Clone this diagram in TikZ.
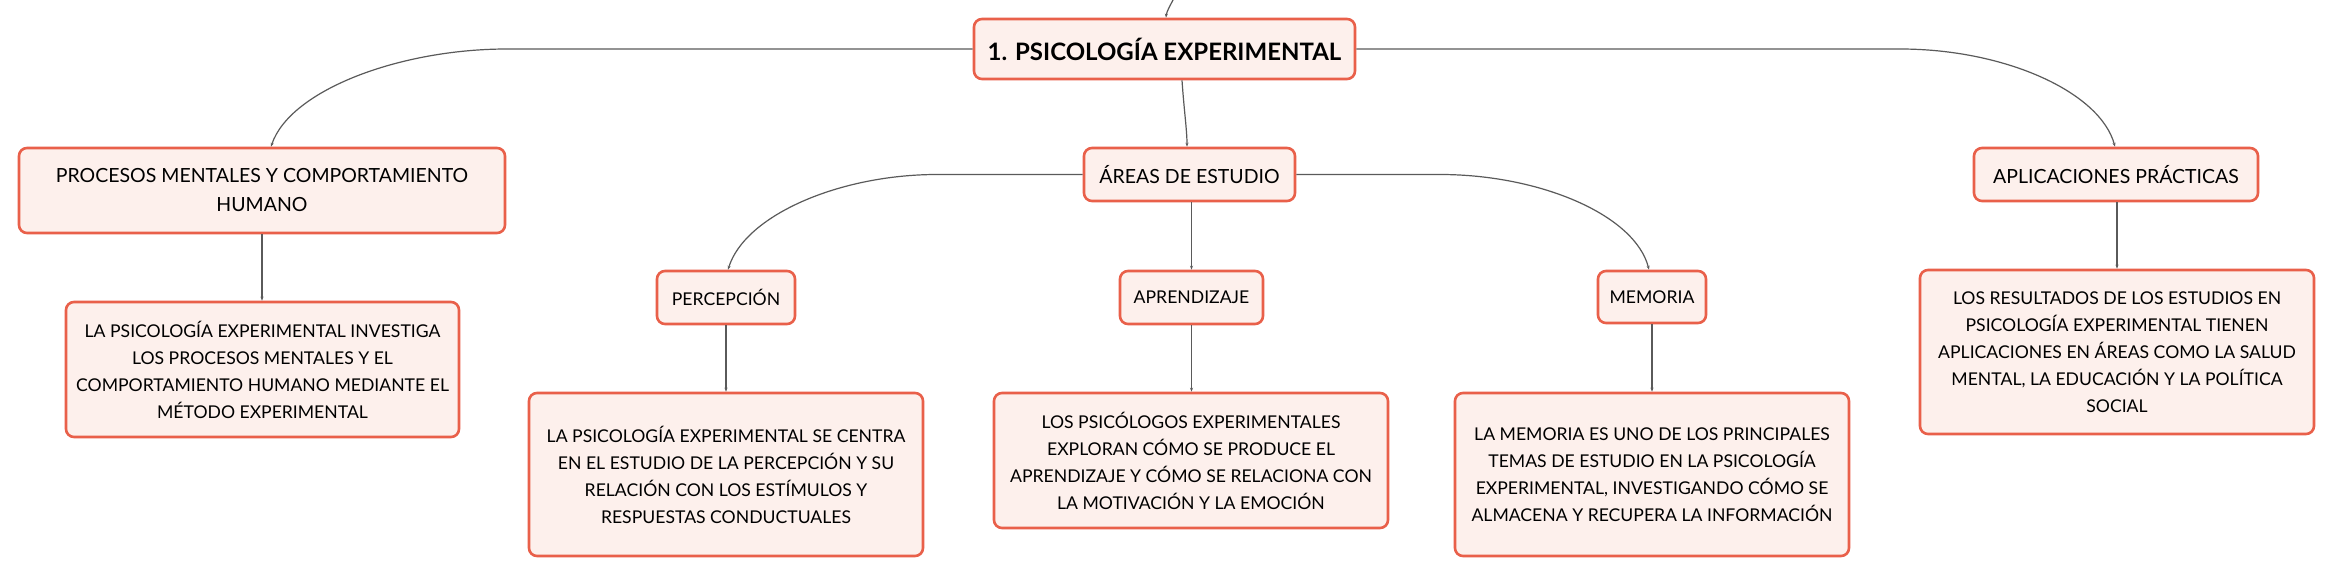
\documentclass[tikz,border=0pt]{standalone}
\usepackage{fontspec}
\setmainfont{Lato}
\usetikzlibrary{arrows.meta,calc}
\definecolor{bordc}{HTML}{E9604A}
\definecolor{fillc}{HTML}{FDF0EC}
\definecolor{linec}{HTML}{5A5A5A}
\begin{document}
\begin{tikzpicture}[x=1pt,y=-1pt,
  box/.style={draw=bordc,fill=fillc,line width=2.6pt,rounded corners=8pt,align=center,inner sep=0pt,text=black,font=\fontsize{17.6}{27}\selectfont},
  midbox/.style={box,font=\fontsize{19.5}{29}\selectfont},
  conn/.style={draw=linec,line width=1.2pt,-{Stealth[length=4pt,width=3pt]}}]
\clip (0,0) rectangle (2330,577);
\fill[white] (0,0) rectangle (2330,577);

\node[box,minimum width=381pt,minimum height=60pt,font=\fontsize{24}{30}\selectfont\bfseries] (main) at (1164.5,49) {1. PSICOLOGÍA EXPERIMENTAL};

\node[midbox,minimum width=486pt,minimum height=85pt] (proc) at (262,190.5) {PROCESOS MENTALES Y COMPORTAMIENTO\\HUMANO};
\node[box,minimum width=393pt,minimum height=135pt] (procc) at (262.5,369.5) {LA PSICOLOGÍA EXPERIMENTAL INVESTIGA\\LOS PROCESOS MENTALES Y EL\\COMPORTAMIENTO HUMANO MEDIANTE EL\\MÉTODO EXPERIMENTAL};

\node[midbox,minimum width=211pt,minimum height=53pt] (areas) at (1189.5,174.5) {ÁREAS DE ESTUDIO};

\node[box,minimum width=138pt,minimum height=53pt] (perc) at (726,297.5) {PERCEPCIÓN};
\node[box,minimum width=394pt,minimum height=163pt] (percc) at (726,474.5) {LA PSICOLOGÍA EXPERIMENTAL SE CENTRA\\EN EL ESTUDIO DE LA PERCEPCIÓN Y SU\\RELACIÓN CON LOS ESTÍMULOS Y\\RESPUESTAS CONDUCTUALES};

\node[box,minimum width=143pt,minimum height=53pt] (apr) at (1191.5,297.5) {APRENDIZAJE};
\node[box,minimum width=394pt,minimum height=135pt] (aprc) at (1191,460.5) {LOS PSICÓLOGOS EXPERIMENTALES\\EXPLORAN CÓMO SE PRODUCE EL\\APRENDIZAJE Y CÓMO SE RELACIONA CON\\LA MOTIVACIÓN Y LA EMOCIÓN};

\node[box,minimum width=108pt,minimum height=52pt] (mem) at (1652,297) {MEMORIA};
\node[box,minimum width=394pt,minimum height=163pt] (memc) at (1652,474.5) {LA MEMORIA ES UNO DE LOS PRINCIPALES\\TEMAS DE ESTUDIO EN LA PSICOLOGÍA\\EXPERIMENTAL, INVESTIGANDO CÓMO SE\\ALMACENA Y RECUPERA LA INFORMACIÓN};

\node[midbox,minimum width=284pt,minimum height=53pt] (apl) at (2116,174.5) {APLICACIONES PRÁCTICAS};
\node[box,minimum width=394pt,minimum height=164pt] (aplc) at (2117,352) {LOS RESULTADOS DE LOS ESTUDIOS EN\\PSICOLOGÍA EXPERIMENTAL TIENEN\\APLICACIONES EN ÁREAS COMO LA SALUD\\MENTAL, LA EDUCACIÓN Y LA POLÍTICA\\SOCIAL};

% connector from the parent outside the frame
\coordinate (up) at (1186,-30);
\draw[conn] (up) .. controls (1178,-5) and (1167,8) .. ([xshift=1.5pt]main.north);

% main -> branches
\draw[conn] (main.west) -- (507,49) .. controls (400,49) and (290,90) .. ([xshift=9pt]proc.north);
\draw[conn] ([xshift=17.5pt]main.south) .. controls (1184,110) and (1187,130) .. ([xshift=-2.5pt]areas.north);
\draw[conn] (main.east) -- (1900,49) .. controls (2005,49) and (2100,92) .. ([xshift=-1pt]apl.north);

% areas -> sub
\draw[conn] (areas.west) -- (937,174.5) .. controls (840,174.5) and (745,215) .. ([xshift=2pt]perc.north);
\draw[conn] (areas.south -| apr.north) -- (apr.north);
\draw[conn] (areas.east) -- (1440,174.5) .. controls (1540,174.5) and (1635,215) .. ([xshift=-3pt]mem.north);

% vertical links
\draw[conn] (proc.south) -- (procc.north -| proc.south);
\draw[conn] (perc.south) -- (percc.north);
\draw[conn] (apr.south) -- (aprc.north -| apr.south);
\draw[conn] (mem.south) -- (memc.north);
\draw[conn] (apl.south -| aplc.north) -- (aplc.north);
\end{tikzpicture}
\end{document}
